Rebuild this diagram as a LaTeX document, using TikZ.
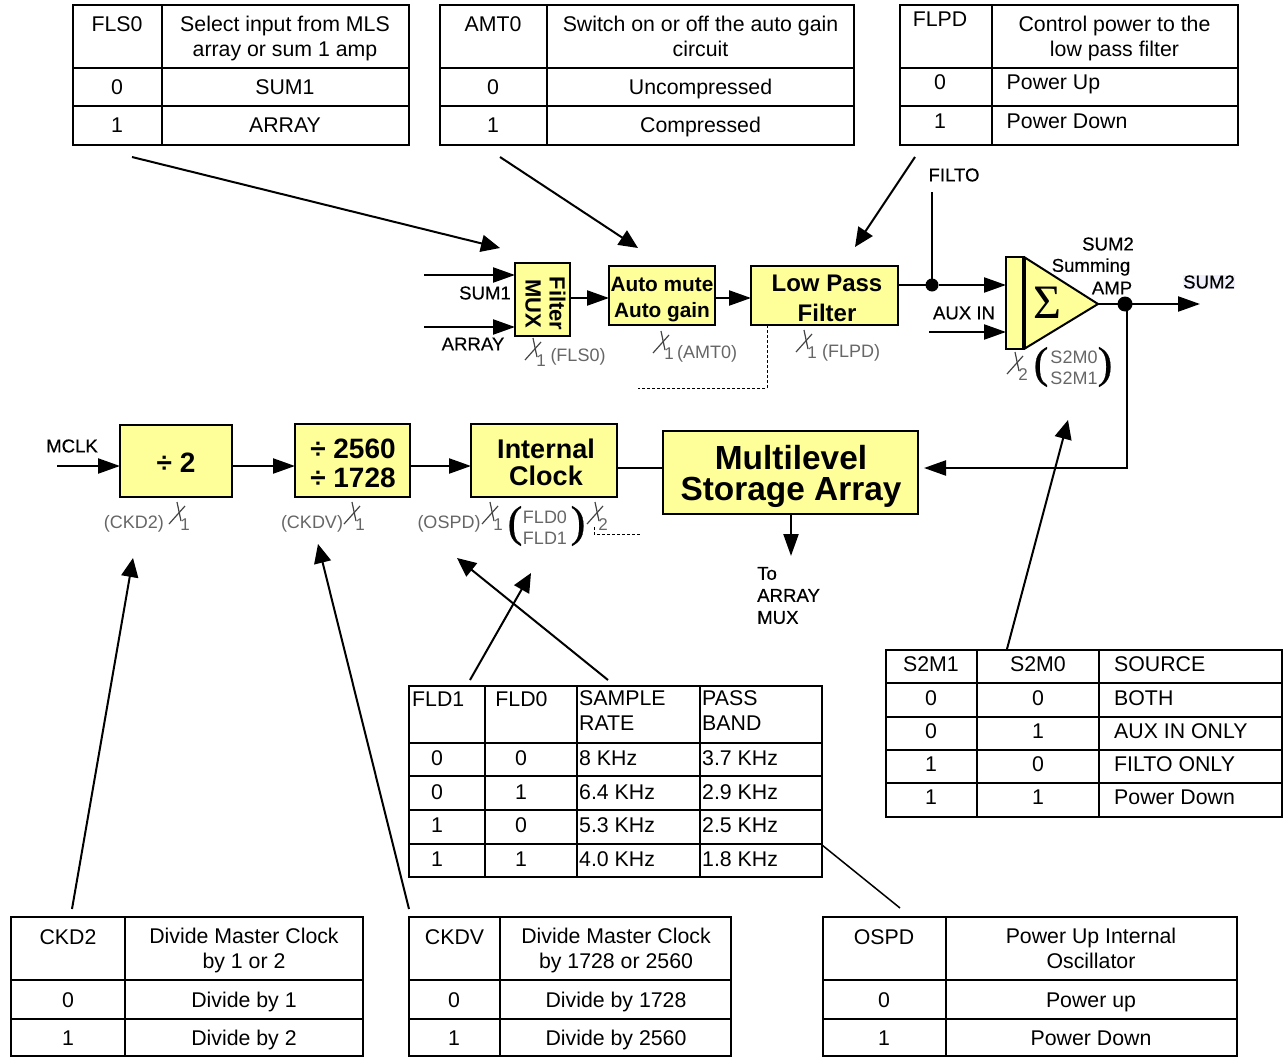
\documentclass[tikz,border=0pt]{standalone}
\usepackage{fontspec}
\setmainfont{Liberation Sans}
\newfontfamily\medfont[FakeBold=0.4]{Liberation Sans}
\newfontfamily\sigmafont{Liberation Serif}
\newfontfamily\parenfont[FakeBold=0.6]{Liberation Serif}
\usetikzlibrary{arrows.meta}
\definecolor{Cblockyellow}{HTML}{FFFF99}
\definecolor{Cbusgrey}{HTML}{666666}
\definecolor{Cmarkgrey}{HTML}{444444}
\definecolor{Cglow}{HTML}{F0F0FC}
\tikzset{
	strutted/.style={inner sep=0pt,yshift=-2.5pt,
		execute at begin node={\strut},execute at end node={\strut}},
	tabframe/.style={draw=black,line width=2pt,inner sep=0pt,outer sep=0pt,anchor=north west},
	tabline/.style={draw=black,line width=2pt},
	tabtext/.style={strutted,font=\fontsize{21.3}{25}\selectfont,align=center},
	tableft/.style={strutted,font=\fontsize{21.3}{25}\selectfont,align=left,anchor=west},
	block/.style={draw=black,line width=2.4pt,fill=Cblockyellow,inner sep=0pt,outer sep=0pt,anchor=north west},
	blocktext/.style={strutted,align=center},
	sigtext/.style={inner sep=0pt,font=\fontsize{18.6}{22}\medfont},
	bustext/.style={inner sep=0pt,text=Cbusgrey,align=left,font=\fontsize{18}{21}\selectfont},
	parentext/.style={inner sep=0pt,font=\fontsize{44}{44}\parenfont},
	sigline/.style={line width=2.3pt,-{Triangle[length=22pt,width=15pt]}},
	plainline/.style={line width=2.3pt},
	callout/.style={line width=2pt,-{Triangle[length=19pt,width=17pt]}},
	busmark/.style={draw=Cmarkgrey,line width=1.2pt},
	dashline/.style={line width=1pt,dash pattern=on 3pt off 2pt},
	sigdot/.style={circle,fill=black,inner sep=0pt,outer sep=0pt}
}
\begin{document}
\begin{tikzpicture}[x=1pt,y=-1pt]
	\useasboundingbox (0,0) rectangle (1283,1057);
	% tables
	\foreach \nm/\x/\y/\w/\h in {tabfls/73/5/336/140,tabamt/440/5/414/140,tabflp/900/5/338/140,
			tabsrc/886/650/396/167,tabfld/409/686/413/191,
			tabckd/11/917/352/139,tabdiv/409/917/322/139,tabosp/823/917/414/139}{
			\node[tabframe,minimum width=\w pt,minimum height=\h pt] (\nm) at (\x,\y) {};}
	\foreach \xa/\ya/\xb/\yb in {162/5/162/145,73/68/409/68,73/106/409/106,
			547/5/547/145,440/68/854/68,440/106/854/106,
			992/5/992/145,900/68/1238/68,900/106/1238/106,
			977/650/977/817,1099/650/1099/817,886/683/1282/683,886/717/1282/717,886/750/1282/750,886/783/1282/783,
			485/686/485/877,577/686/577/877,700/686/700/877,409/743/822/743,409/776/822/776,409/810/822/810,409/844/822/844,
			125/917/125/1056,11/980/363/980,11/1019/363/1019,
			500/917/500/1056,409/980/731/980,409/1019/731/1019,
			946/917/946/1056,823/980/1237/980,823/1019/1237/1019}{
			\draw[tabline] (\xa,\ya) -- (\xb,\yb);}
	\foreach \nm/\x/\y/\txt in {flsa/117/24/FLS0,flsb/285/37.5/Select input from MLS\\array or sum 1 amp,
			flsc/117/87/0,flsd/285/87/SUM1,flse/117/125/1,flsf/285/125/ARRAY,
			amta/493/24/AMT0,amtb/700.5/37.5/Switch on or off the auto gain\\circuit,
			amtc/493/87/0,amtd/700.5/87/Uncompressed,amte/493/125/1,amtf/700.5/125/Compressed,
			flpa/940/19/FLPD,flpb/1114.5/37.5/Control power to the\\low pass filter,flpc/940/82/0,flpe/940/121/1,
			srca/931/664/S2M1,srcb/1038/664/S2M0,srcc/931/698/0,srcd/1038/698/0,srce/931/731/0,srcf/1038/731/1,
			srcg/931/764/1,srch/1038/764/0,srci/931/797/1,srcj/1038/797/1,
			fldb/521.5/699/FLD0,fldc/437/758/0,fldd/521/758/0,flde/437/792/0,fldf/521/792/1,
			fldg/437/825/1,fldh/521/825/0,fldi/437/859/1,fldj/521/859/1,
			ckda/68/937/CKD2,ckdb/244/950/Divide Master Clock\\by 1 or 2,ckdc/68/1000/0,ckdd/244/1000/Divide by 1,ckde/68/1038/1,ckdf/244/1038/Divide by 2,
			diva/454.5/937/CKDV,divb/616/950/Divide Master Clock\\by 1728 or 2560,divc/454/1000/0,divd/616/1000/Divide by 1728,dive/454/1038/1,divf/616/1038/Divide by 2560,
			ospa/884/937/OSPD,ospb/1091/950/Power Up Internal\\Oscillator,ospc/884/1000/0,ospd/1091/1000/Power up,ospe/884/1038/1,ospf/1091/1038/Power Down}{
			\node[tabtext] (\nm) at (\x,\y) {\txt};}
	\foreach \nm/\x/\y/\txt in {flpd/1006.5/82/Power Up,flpf/1006.5/121/Power Down,
			srcsrc/1114/664/SOURCE,srcone/1114/698/BOTH,srctwo/1114/731/AUX IN ONLY,srcthr/1114/764/FILTO ONLY,srcfou/1114/797/Power Down,
			flda/412/699/FLD1,fldrate/579/712/SAMPLE\\RATE,fldband/702/712/PASS\\BAND,
			fldra/579/758/8 KHz,fldrb/579/792/6.4 KHz,fldrc/579/825/5.3 KHz,fldrd/579/859/4.0 KHz,
			fldba/702/758/3.7 KHz,fldbb/702/792/2.9 KHz,fldbc/702/825/2.5 KHz,fldbd/702/859/1.8 KHz}{
			\node[tableft] (\nm) at (\x,\y) {\txt};}
	% blocks
	\foreach \nm/\x/\y/\w/\h in {filtermux/515/263/55/73,automute/609/266/106/59,lowpass/751/266/147/59,
			divtwo/120/425/112/72,divclk/295/424/115/73,intclock/471/424/146/73,storage/663/431/255/83}{
			\node[block,minimum width=\w pt,minimum height=\h pt] (\nm) at (\x,\y) {};}
	\node[block,line width=1.6pt,minimum width=18pt,minimum height=92pt] (sumbar) at (1006,257) {};
	\coordinate (sumtop) at (1024,257);
	\coordinate (sumtip) at (1098,304);
	\coordinate (sumbot) at (1024,349);
	\draw[line width=2pt,fill=Cblockyellow,line join=miter] (sumtop) -- (sumtip) -- (sumbot);
	\draw[line width=3.6pt] (sumtop) -- (sumbot);
	\node[inner sep=0pt,font=\fontsize{48}{48}\sigmafont] (sumsign) at (1047,303) {Σ};
	\node[blocktext,rotate=-90,font=\fontsize{22}{24}\bfseries] (muxtext) at (542,301) {Filter\\MUX};
	\node[blocktext,font=\fontsize{20.8}{26}\bfseries] (autotext) at (662,299) {Auto mute\\Auto gain};
	\node[blocktext,font=\fontsize{24}{30}\bfseries] (lowtext) at (827,300) {Low Pass\\Filter};
	\node[blocktext,font=\fontsize{28}{29}\bfseries] (twotext) at (176,464) {÷ 2};
	\node[blocktext,font=\fontsize{28}{29}\bfseries] (clktext) at (353,465.5) {÷ 2560\\÷ 1728};
	\node[blocktext,font=\fontsize{27}{27}\bfseries] (inttext) at (546,463.5) {Internal\\Clock};
	\node[blocktext,font=\fontsize{33.4}{31}\bfseries] (stortext) at (791,475.5) {Multilevel\\Storage Array};
	% signal labels
	\foreach \nm/\x/\y/\txt in {sumone/485/293/SUM1,arraylab/473/344/ARRAY,filtolab/954/175/FILTO,auxlab/964/313/AUX IN,
			sumamp/1108/244/SUM2,summing/1091/267/Summing,amplab/1112/288/AMP,mclklab/72/446/MCLK}{
			\node[sigtext] (\nm) at (\x,\y) {\txt};}
	\node[sigtext,fill=Cglow] (sumtwo) at (1209,282) {SUM2};
	\node[sigtext,align=left,anchor=west] (tomux) at (757,595.5) {To\\ARRAY\\MUX};
	% bus labels
	\foreach \nm/\x/\y/\txt in {busfls/578/357/(FLS0),busamt/707/354/(AMT0),busflp/851/353/(FLPD),
			busckd/134/524/(CKD2),busdiv/312/524/(CKDV),busosp/449/524/(OSPD),
			bussrc/1074/367.5/S2M0\\S2M1,busfld/545/527.5/FLD0\\FLD1}{
			\node[bustext] (\nm) at (\x,\y) {\txt};}
	\foreach \nm/\x/\y/\txt in {srcopen/1041/367/(,srcclose/1105/367/),fldopen/515/526/(,fldclose/578/526/)}{
			\node[parentext] (\nm) at (\x,\y) {\txt};}
	\foreach \x/\y/\n in {533/338/1,661/331/1,804/330/1,1015/352/2,177/502/1,352/502/1,490/502/1,595/502/2}{
			\draw[busmark] (\x,\y) -- (\x+4,\y+19);
			\draw[busmark] (\x-8,\y+22) -- (\x+8,\y+4);
			\node[inner sep=0pt,text=Cbusgrey,font=\fontsize{17}{17}\selectfont] (sub\x) at (\x+8,\y+23) {\n};}
	% signal paths
	\coordinate (suminlet) at (424,275);
	\coordinate (arrinlet) at (424,327);
	\coordinate (filtoinlet) at (932,192);
	\coordinate (auxinlet) at (929,332);
	\coordinate (mclkinlet) at (57,466);
	\coordinate (sumoutlet) at (1200,304);
	\coordinate (backcorner) at (1127,468);
	\coordinate (backtip) at (924,468);
	\coordinate (muxtip) at (791,556);
	\node[sigdot,minimum size=13pt] (filtdot) at (932,285) {};
	\node[sigdot,minimum size=15pt] (sumdot) at (1125,304) {};
	\draw[sigline] (suminlet) -- (filtermux.west |- suminlet);
	\draw[sigline] (arrinlet) -- (filtermux.west |- arrinlet);
	\draw[sigline] (filtermux.east |- 0,298) -- (automute.west |- 0,298);
	\draw[sigline] (automute.east |- 0,298) -- (lowpass.west |- 0,298);
	\draw[plainline] (lowpass.east |- filtdot) -- (filtdot);
	\draw[sigline] (filtdot) -- (sumbar.west |- filtdot);
	\draw[plainline] (filtoinlet) -- (filtdot);
	\draw[sigline] (auxinlet) -- (sumbar.west |- auxinlet);
	\draw[sigline] (sumtip) -- (sumoutlet);
	\draw[sigline] (backcorner |- sumdot) -- (backcorner) -- (backtip);
	\draw[sigline] (mclkinlet) -- (divtwo.west |- mclkinlet);
	\draw[sigline] (divtwo.east |- mclkinlet) -- (divclk.west |- mclkinlet);
	\draw[sigline] (divclk.east |- mclkinlet) -- (intclock.west |- mclkinlet);
	\draw[plainline] (intclock.east |- backtip) -- (storage.west |- backtip);
	\draw[sigline] (storage.south -| muxtip) -- (muxtip);
	% dashed control lines
	\coordinate (lowdrop) at (767,325);
	\coordinate (lowcorner) at (767,388);
	\coordinate (lowend) at (638,388);
	\draw[dashline] (lowdrop) -- (lowcorner) -- (lowend);
	\coordinate (fldstart) at (594,527);
	\coordinate (fldcorner) at (594,534);
	\coordinate (fldend) at (640,534);
	\draw[dashline] (fldstart) -- (fldcorner) -- (fldend);
	% callouts
	\foreach \nm/\xa/\ya/\xb/\yb in {fls/132/157/500/248,amt/500/157/638/248,flp/915/157/855/247,
			src/1007/649/1068/420,fldone/470/680/531/573,fldtwo/608/680/457/558,
			ckd/72/909/133/558,div/409/909/318/544}{
			\coordinate (\nm from) at (\xa,\ya);
			\coordinate (\nm to) at (\xb,\yb);
			\draw[callout] (\nm from) -- (\nm to);}
	\coordinate (fldtie) at (822,845);
	\coordinate (osptie) at (900,908);
	\draw[line width=1.5pt] (fldtie) -- (osptie);
\end{tikzpicture}
\end{document}
